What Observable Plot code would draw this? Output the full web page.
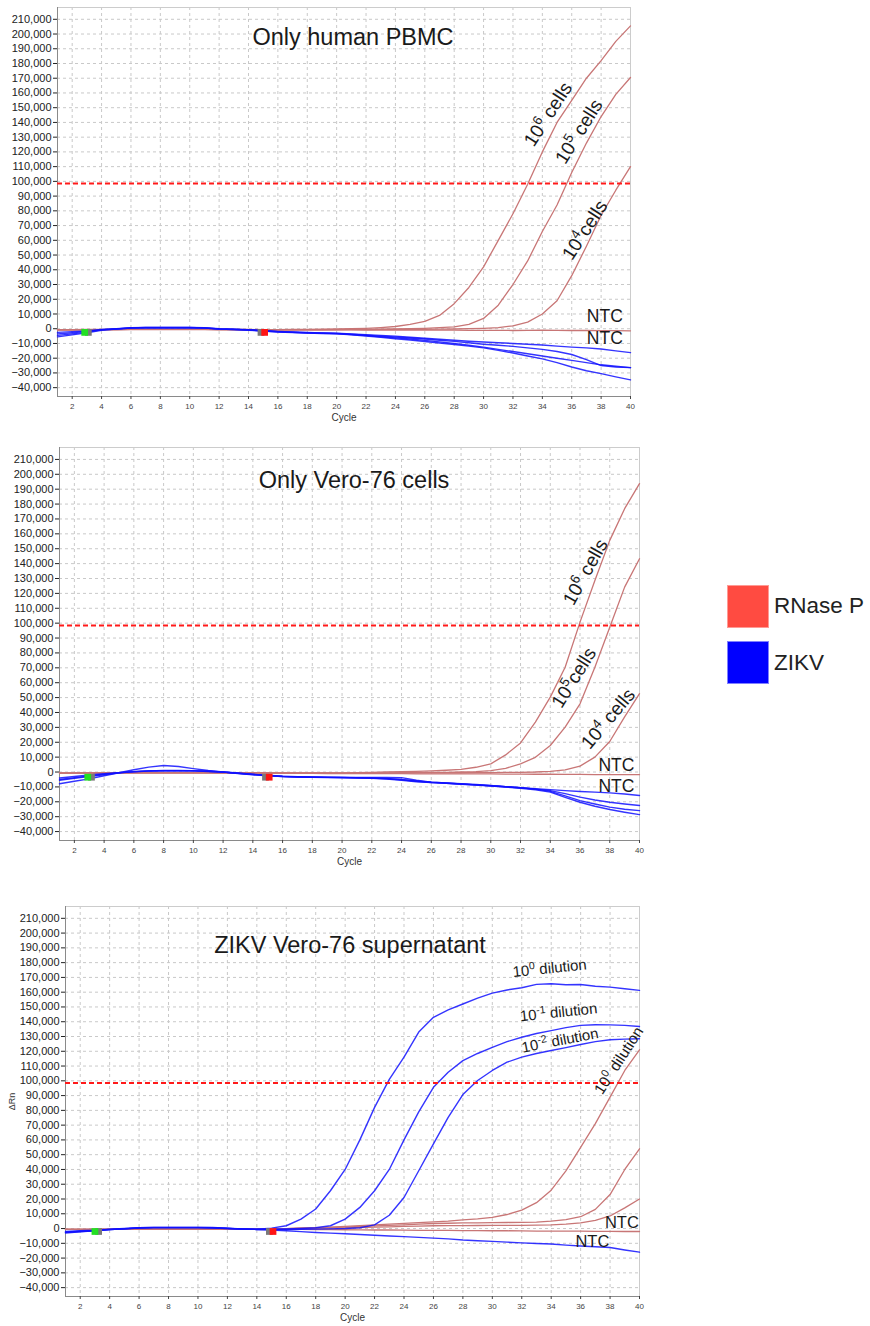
<!DOCTYPE html>
<html>
<head>
<meta charset="utf-8">
<script src="https://cdn.jsdelivr.net/npm/d3@7"></script>
<script src="https://cdn.jsdelivr.net/npm/@observablehq/plot@0.6"></script>
<style>
  body { margin: 0; background: #fff; font-family: "Liberation Sans", Arial, sans-serif; }
  #wrap { position: relative; width: 870px; height: 1326px; overflow: hidden; background: #fff; }
  .panel { position: absolute; left: 0; }
  .panel svg { overflow: visible; }
  .lg-box { position: absolute; left: 727px; width: 42px; height: 43px; }
  .lg-txt { position: absolute; left: 774px; font-size: 22.5px; color: #222; line-height: 1; }
</style>
</head>
<body>
<div id="wrap">
  <div class="panel" id="p1" style="top:0px"></div>
  <div class="panel" id="p2" style="top:440px"></div>
  <div class="panel" id="p3" style="top:895px"></div>
  <div class="lg-box" style="top:585px;background:#ff4b41;border:1px solid #ff9a94;box-sizing:border-box"></div>
  <div class="lg-txt" style="top:595px">RNase P</div>
  <div class="lg-box" style="top:641px;background:#0000ff;border:1px solid #8080ff;box-sizing:border-box"></div>
  <div class="lg-txt" style="top:652px">ZIKV</div>
</div>
<script>
// ---------------- DATA ----------------
const cycles = [1,2,3,4,5,6,7,8,9,10,11,12,13,14,15,16,17,18,19,20,21,22,23,24,25,26,27,28,29,30,31,32,33,34,35,36,37,38,39,40];
const xTicks = [2,4,6,8,10,12,14,16,18,20,22,24,26,28,30,32,34,36,38,40];
const yTicks = [-40000,-30000,-20000,-10000,0,10000,20000,30000,40000,50000,60000,70000,80000,90000,100000,110000,120000,130000,140000,150000,160000,170000,180000,190000,200000,210000];
const thresholds = [98500, 98500, 98500];
const panelTitles = ["Only human PBMC", "Only Vero-76 cells", "ZIKV Vero-76 supernatant"];

// Panel 1: Only human PBMC
const p1_rnp_1e6 = [-600,-600,-500,-500,-500,-400,-400,-400,-400,-400,-400,-500,-500,-500,-600,-600,-500,-400,-300,-200,0,300,800,1500,3000,5000,9000,17000,28000,42000,60000,78000,98000,120000,140000,155000,170000,182000,195000,205500];
const p1_rnp_1e5 = [-700,-700,-600,-600,-500,-500,-500,-500,-500,-500,-500,-500,-600,-600,-600,-700,-700,-600,-600,-600,-500,-400,-300,-100,100,300,700,1300,3000,7000,16000,30000,46000,66000,84000,106000,126000,144000,159000,170500];
const p1_rnp_1e4 = [-700,-700,-600,-600,-600,-500,-500,-500,-500,-500,-500,-600,-600,-600,-700,-700,-700,-700,-700,-600,-600,-600,-500,-500,-400,-400,-300,-200,0,300,800,2000,4500,10000,19000,36000,56000,77000,94000,110000];
const p1_rnp_ntc = [-800,-800,-700,-700,-700,-600,-600,-600,-600,-600,-600,-700,-700,-700,-800,-800,-800,-800,-800,-800,-800,-900,-900,-900,-1000,-1000,-1000,-1000,-1100,-1100,-1100,-1200,-1100,-900,-1100,-1200,-1200,-1300,-1300,-1400];
const p1_zikv_a = [-2500,-2000,-1500,-500,0,700,800,800,800,800,700,0,-300,-600,-1200,-1800,-2200,-2600,-2900,-3000,-3500,-4000,-4500,-5000,-5800,-6500,-7100,-7800,-8500,-9000,-9500,-10000,-10500,-11000,-11800,-12500,-13000,-13800,-15000,-16200];
const p1_zikv_b = [-3500,-2700,-1800,-600,-100,600,800,800,800,800,600,-100,-400,-800,-1400,-2000,-2400,-2700,-3000,-3200,-3800,-4400,-5000,-5600,-6300,-7000,-7800,-8600,-9500,-10500,-11200,-12000,-13000,-14000,-15500,-17500,-21000,-25000,-26000,-26400];
const p1_zikv_c = [-4500,-3500,-2300,-800,-200,500,700,700,700,700,500,-200,-500,-900,-1500,-2100,-2500,-2800,-3100,-3300,-4000,-4700,-5400,-6200,-7000,-7900,-8900,-10000,-11200,-12500,-14000,-15500,-17000,-18500,-20000,-21500,-23000,-24500,-25500,-26400];
const p1_zikv_d = [-5500,-4200,-2800,-1000,-300,400,600,600,600,600,400,-300,-600,-1000,-1600,-2200,-2600,-2900,-3200,-3400,-4200,-5000,-5800,-6800,-7700,-8700,-9700,-10700,-11800,-13000,-14700,-16500,-18500,-20500,-23000,-26000,-28500,-30500,-32700,-34700];

// Panel 2: Only Vero-76 cells
const p2_rnp_1e6 = [-600,-600,-500,-500,-500,-400,-400,-400,-400,-400,-400,-400,-500,-500,-500,-600,-600,-600,-600,-600,-400,-200,0,200,500,800,1200,1800,3200,5500,11500,19500,33500,50300,70400,100700,128700,155600,176900,193700];
const p2_rnp_1e5 = [-700,-700,-600,-600,-600,-500,-500,-500,-500,-500,-500,-500,-600,-600,-600,-700,-700,-700,-700,-700,-700,-600,-600,-500,-400,-300,-200,0,300,1000,2500,5500,9900,17800,30100,45800,70400,97300,124200,143300];
const p2_rnp_1e4 = [-700,-700,-600,-600,-600,-500,-500,-500,-500,-500,-500,-600,-600,-600,-700,-700,-700,-700,-700,-700,-700,-700,-700,-600,-600,-600,-500,-500,-400,-400,-300,-200,0,500,1500,4000,10000,20500,37000,52600];
const p2_rnp_ntc = [-800,-800,-700,-700,-700,-600,-600,-600,-600,-600,-600,-700,-700,-700,-800,-800,-900,-900,-1000,-1000,-1000,-1100,-1100,-1100,-1200,-1200,-1200,-1300,-1300,-1300,-1400,-1400,-1500,-1500,-1600,-1600,-1700,-1700,-1800,-1800];
const p2_zikv_a = [-4000,-3000,-2000,-1200,-400,300,700,800,800,800,500,0,-700,-1500,-2200,-2800,-3100,-3300,-3500,-3600,-3800,-4000,-4300,-5000,-6000,-6800,-7300,-7800,-8400,-9000,-9800,-10500,-11200,-11800,-12500,-13100,-13500,-14000,-14800,-15800];
const p2_zikv_b = [-5000,-3800,-2600,-1500,-500,300,800,1000,1000,900,500,0,-800,-1600,-2300,-2900,-3200,-3400,-3600,-3700,-3900,-4100,-4500,-5200,-6200,-7000,-7500,-8000,-8600,-9200,-9900,-10600,-11500,-12500,-14500,-16900,-18800,-20300,-21500,-22500];
const p2_zikv_c = [-7900,-6200,-4600,-2500,-500,1500,3300,4400,3700,2300,1000,0,-1000,-1800,-2500,-3000,-3300,-3500,-3600,-3600,-3600,-3600,-3600,-3800,-5500,-6800,-7400,-8000,-8600,-9200,-9900,-10600,-11500,-13000,-16000,-19200,-21500,-23600,-25000,-25900];
const p2_zikv_d = [-5500,-4300,-3000,-1800,-600,200,700,900,900,800,400,-100,-900,-1700,-2400,-3000,-3300,-3500,-3700,-3800,-4000,-4300,-4800,-5600,-6500,-7000,-7600,-8200,-8800,-9400,-10100,-10900,-12000,-13500,-17000,-20300,-23000,-25200,-27000,-28600];

// Panel 3: ZIKV Vero-76 supernatant
const p3_rnp_d0 = [-500,-500,-500,-400,-400,-300,-300,-300,-300,-300,-300,-400,-400,-500,-500,0,300,600,900,1500,2000,2500,3000,3500,4000,4500,5000,5800,6500,7500,9500,12500,17500,26000,39000,55000,71000,89000,107000,121000];
const p3_rnp_d1 = [-600,-600,-500,-500,-400,-400,-400,-400,-400,-400,-400,-500,-500,-600,-600,0,200,400,700,1000,1400,1800,2100,2500,3000,3400,3600,3800,3900,4000,4100,4200,4300,5000,6000,8000,13000,23000,40000,54000];
const p3_rnp_d2 = [-600,-600,-500,-500,-500,-400,-400,-400,-400,-400,-400,-500,-500,-600,-600,0,100,200,300,500,700,900,1100,1500,1700,1900,1950,2000,2050,2100,2150,2200,2300,2500,3000,3800,5500,8500,14000,20000];
const p3_rnp_ntc = [-600,-600,-500,-500,-500,-400,-400,-400,-400,-400,-400,-500,-500,-600,-600,-500,-600,-700,-700,-800,-900,-1000,-1000,-1100,-1200,-1300,-1300,-1400,-1400,-1500,-1500,-1600,-1700,-1700,-1800,-1800,-1900,-1900,-2000,-2000];
const p3_zikv_d0 = [-2000,-1500,-1200,-500,0,600,800,800,800,800,700,200,-200,-400,300,1900,6400,13200,25600,40000,60000,82000,101000,116000,133000,143000,148000,152000,156000,159400,161500,163000,165300,165700,165000,165200,164000,163400,162300,161200];
const p3_zikv_d1 = [-2500,-1800,-1300,-600,-100,500,700,700,700,700,600,100,-300,-500,-500,-300,0,500,1900,6400,14300,25600,40000,60000,79000,95600,105800,113700,118500,122700,126500,129500,132000,134000,136000,137500,138000,137900,137500,136800];
const p3_zikv_d2 = [-3000,-2200,-1500,-700,-200,400,600,600,600,600,500,0,-400,-600,-600,-600,-500,-400,-200,0,500,2500,9000,21000,39100,57300,75300,90700,100200,107000,112600,116000,118500,120500,122500,124600,126500,127800,128200,128500];
const p3_zikv_ntc = [-2500,-2000,-1500,-700,-200,400,600,600,600,600,400,0,-300,-600,-1000,-1500,-2100,-2700,-3100,-3500,-4000,-4500,-5000,-5500,-6000,-6500,-7000,-7800,-8300,-8700,-9200,-9700,-10100,-10500,-11200,-11800,-12300,-12800,-14500,-16000];

// Baseline start/end markers (cycle, value) per panel
const markerStartCycle = [2.85, 2.9, 3.0];
const markerEndCycle = [15.1, 15.1, 15.1];
const markerValue = [-2500, -3500, -2000];

// Curve annotations
const p1LabelText = ["10⁶ cells", "10⁵ cells", "10⁴cells", "NTC", "NTC"];
const p1LabelCycle = [34.4, 36.5, 36.9, 38.25, 38.25];
const p1LabelValue = [145500, 133750, 66900, 8100, -6800];
const p2LabelText = ["10⁶ cells", "10⁵cells", "10⁴ cells", "NTC", "NTC"];
const p2LabelCycle = [36.37, 35.6, 37.9, 38.45, 38.45];
const p2LabelValue = [134300, 63300, 35700, 4400, -9700];
const p3LabelText = ["10⁰ dilution", "10⁻¹ dilution", "10⁻² dilution", "10⁰ dilution", "NTC", "NTC"];
const p3LabelCycle = [33.9, 34.5, 34.6, 38.6, 38.8, 36.8];
const p3LabelValue = [176100, 146300, 127300, 113700, 3900, -9000];

// ---------------- DRAWING ----------------
const RED_LINE = "#c87676";
const BLUE_LINE = "#1010ff";
const FONT = "'Liberation Sans', Arial, Helvetica, sans-serif";
const fmt = d3.format(",");

function rows(series) {
  return series.flatMap(s => s.values.map((v, i) => ({cycle: cycles[i], value: v, key: s.key, target: s.target})));
}

// Render unicode superscripts as raised, smaller tspans (like the reference)
const SUP = {"⁰":"0","¹":"1","²":"2","³":"3","⁴":"4","⁵":"5","⁶":"6","⁷":"7","⁸":"8","⁹":"9","⁻":"-"};
function fixSuperscripts(svg) {
  d3.select(svg).selectAll("text").each(function() {
    const el = this;
    const s = el.textContent;
    if (![...s].some(ch => ch in SUP)) return;
    const runs = [];
    let cur = null;
    for (const ch of s) {
      const sup = ch in SUP;
      const c = sup ? SUP[ch] : ch;
      if (!cur || cur.sup !== sup) { cur = {sup, t: ""}; runs.push(cur); }
      cur.t += c;
    }
    while (el.firstChild) el.removeChild(el.firstChild);
    let shifted = false;
    for (const r of runs) {
      const ts = document.createElementNS("http://www.w3.org/2000/svg", "tspan");
      ts.textContent = r.t;
      if (r.sup) {
        ts.setAttribute("font-size", "0.7em");
        ts.setAttribute("dy", "-0.55em");
        shifted = true;
      } else if (shifted) {
        ts.setAttribute("dy", "0.385em");
        shifted = false;
      }
      el.appendChild(ts);
    }
  });
}

function makePanel(cfg) {
  const data = rows(cfg.series);
  const red = data.filter(d => d.target === "RNase P");
  const blue = data.filter(d => d.target === "ZIKV");
  const labels = cfg.labelText.map((t, i) => ({text: t, cycle: cfg.labelCycle[i], value: cfg.labelValue[i], rotate: cfg.labelRotate[i], size: cfg.labelSize[i]}));
  const i = cfg.index;
  const marks = [
    Plot.gridX({ticks: xTicks, stroke: "#c9c9c9", strokeOpacity: 1, strokeDasharray: "3,3"}),
    Plot.gridY({ticks: yTicks, stroke: "#c9c9c9", strokeOpacity: 1, strokeDasharray: "3,3"}),
    Plot.frame({stroke: "#cccccc"}),
    Plot.frame({anchor: "left", stroke: "#8a8a8a"}),
    Plot.frame({anchor: "bottom", stroke: "#8a8a8a"}),
    Plot.axisY({ticks: yTicks, tickFormat: fmt, tickSize: 4, tickPadding: 2, fontSize: 11, color: "#222", label: null}),
    Plot.axisX({ticks: xTicks, tickSize: 3, tickPadding: 4, fontSize: 8, color: "#444", label: null}),
    Plot.line(red, {x: "cycle", y: "value", z: "key", stroke: RED_LINE, strokeWidth: 1.3}),
    Plot.line(blue, {x: "cycle", y: "value", z: "key", stroke: BLUE_LINE, strokeWidth: 1.4, strokeOpacity: 0.85}),
    Plot.ruleY([thresholds[i]], {stroke: "#ff1a1a", strokeWidth: 2, strokeDasharray: "5,3"}),
    Plot.dot([markerStartCycle[i] + 0.25], {x: d => d, y: () => markerValue[i], symbol: "square", r: 3.8, fill: "#7a7a7a", stroke: "none"}),
    Plot.dot([markerStartCycle[i]], {x: d => d, y: () => markerValue[i], symbol: "square", r: 3.8, fill: "#22e022", stroke: "none"}),
    Plot.dot([markerEndCycle[i] - 0.25], {x: d => d, y: () => markerValue[i], symbol: "square", r: 3.8, fill: "#7a7a7a", stroke: "none"}),
    Plot.dot([markerEndCycle[i]], {x: d => d, y: () => markerValue[i], symbol: "square", r: 3.8, fill: "#ff1414", stroke: "none"}),
    Plot.text([panelTitles[i]], {frameAnchor: "top", lineAnchor: "top", dx: cfg.titleDx, dy: cfg.titleDy, fontSize: 23.5, fill: "#1a1a1a", fontFamily: FONT}),
    Plot.text(labels, {x: "cycle", y: "value", text: "text", rotate: "rotate", fontSize: "size", fill: "#1a1a1a", fontFamily: FONT}),
    Plot.text(["Cycle"], {frameAnchor: "bottom", lineAnchor: "middle", textAnchor: "middle", dy: 21, fontSize: 10, fill: "#333", fontFamily: FONT})
  ];
  if (cfg.yLabel) {
    marks.push(Plot.text([cfg.yLabel], {frameAnchor: "left", lineAnchor: "middle", textAnchor: "middle", rotate: -90, dx: cfg.yLabelDx, fontSize: 9, fill: "#333", fontFamily: FONT}));
  }
  const svg = Plot.plot({
    width: cfg.width,
    height: cfg.height,
    marginLeft: cfg.marginLeft,
    marginRight: cfg.marginRight,
    marginTop: cfg.marginTop,
    marginBottom: cfg.marginBottom,
    x: {domain: [1, 40]},
    y: {domain: [-46000, 218000]},
    style: {fontFamily: FONT, background: "white", overflow: "visible"},
    marks
  });
  fixSuperscripts(svg);
  return svg;
}

const p1 = makePanel({
  index: 0, width: 650, height: 430, marginLeft: 57, marginRight: 20, marginTop: 7, marginBottom: 34,
  titleDx: 9, titleDy: 21,
  series: [
    {key: "r6", target: "RNase P", values: p1_rnp_1e6},
    {key: "r5", target: "RNase P", values: p1_rnp_1e5},
    {key: "r4", target: "RNase P", values: p1_rnp_1e4},
    {key: "rn", target: "RNase P", values: p1_rnp_ntc},
    {key: "za", target: "ZIKV", values: p1_zikv_a},
    {key: "zb", target: "ZIKV", values: p1_zikv_b},
    {key: "zc", target: "ZIKV", values: p1_zikv_c},
    {key: "zd", target: "ZIKV", values: p1_zikv_d}
  ],
  labelText: p1LabelText, labelCycle: p1LabelCycle, labelValue: p1LabelValue,
  labelRotate: [-57, -58, -57, 0, 0], labelSize: [19, 19, 19, 17.5, 17.5]
});
document.getElementById("p1").appendChild(p1);

const p2 = makePanel({
  index: 1, width: 660, height: 430, marginLeft: 59, marginRight: 21, marginTop: 7, marginBottom: 30,
  titleDx: 4.5, titleDy: 24,
  series: [
    {key: "r6", target: "RNase P", values: p2_rnp_1e6},
    {key: "r5", target: "RNase P", values: p2_rnp_1e5},
    {key: "r4", target: "RNase P", values: p2_rnp_1e4},
    {key: "rn", target: "RNase P", values: p2_rnp_ntc},
    {key: "za", target: "ZIKV", values: p2_zikv_a},
    {key: "zb", target: "ZIKV", values: p2_zikv_b},
    {key: "zc", target: "ZIKV", values: p2_zikv_c},
    {key: "zd", target: "ZIKV", values: p2_zikv_d}
  ],
  labelText: p2LabelText, labelCycle: p2LabelCycle, labelValue: p2LabelValue,
  labelRotate: [-61, -58, -50, 0, 0], labelSize: [19, 19, 19, 17.5, 17.5]
});
document.getElementById("p2").appendChild(p2);

const p3 = makePanel({
  index: 2, width: 660, height: 431, marginLeft: 65, marginRight: 21, marginTop: 11, marginBottom: 30,
  titleDx: -2.5, titleDy: 30,
  yLabel: "ΔRn", yLabelDx: -53,
  series: [
    {key: "r0", target: "RNase P", values: p3_rnp_d0},
    {key: "r1", target: "RNase P", values: p3_rnp_d1},
    {key: "r2", target: "RNase P", values: p3_rnp_d2},
    {key: "rn", target: "RNase P", values: p3_rnp_ntc},
    {key: "z0", target: "ZIKV", values: p3_zikv_d0},
    {key: "z1", target: "ZIKV", values: p3_zikv_d1},
    {key: "z2", target: "ZIKV", values: p3_zikv_d2},
    {key: "zn", target: "ZIKV", values: p3_zikv_ntc}
  ],
  labelText: p3LabelText, labelCycle: p3LabelCycle, labelValue: p3LabelValue,
  labelRotate: [-6, -6, -11, -57, 0, 0], labelSize: [15, 15, 15, 15.5, 16.5, 16.5]
});
document.getElementById("p3").appendChild(p3);
</script>
</body>
</html>
